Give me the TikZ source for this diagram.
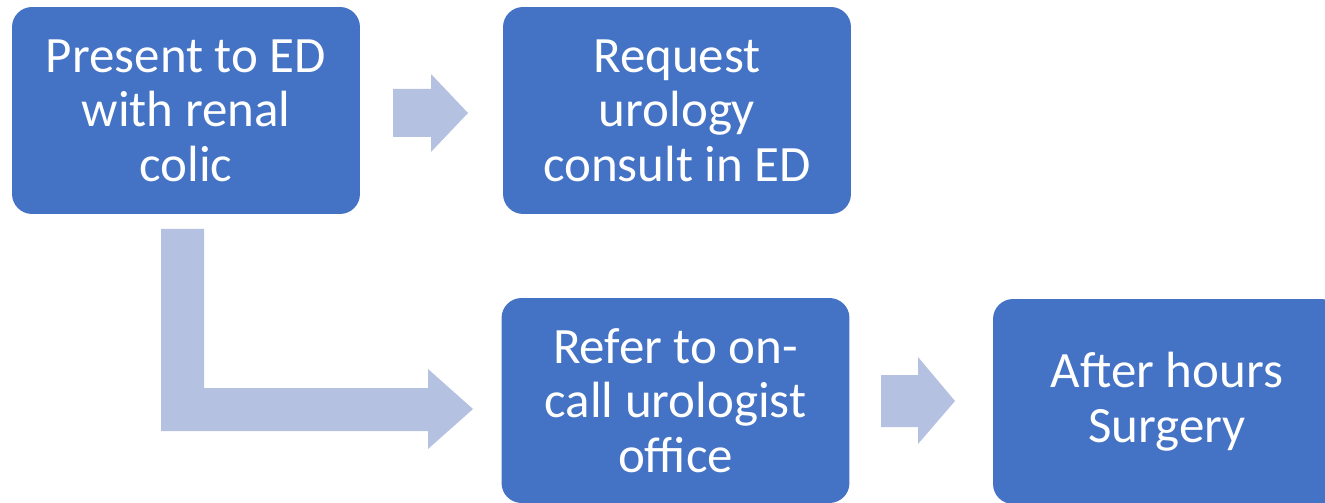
\documentclass[tikz,border=0pt]{standalone}
\usepackage{fontspec}
\setmainfont{Carlito}
\usepackage{xcolor}
\definecolor{boxblue}{RGB}{68, 114, 196}
\definecolor{arrowblue}{RGB}{180, 193, 225}
\usetikzlibrary{positioning}

\tikzset{
  stepbox/.style={fill=boxblue, draw=none, rounded corners=0.4cm, text=white,
    align=center, minimum width=6.96cm, minimum height=4.14cm, inner sep=0pt,
    font=\fontsize{29}{31}\selectfont},
  blockarrow/.style={fill=arrowblue, draw=none}
}

\begin{document}
\begin{tikzpicture}[x=0.02cm, y=-0.02cm]
      \useasboundingbox (0,0) rectangle (1325,503);
      % Top row
      \node[stepbox] (present) at (186,110.5) {Present to ED\\with renal\\colic};
      \node[stepbox] (request) at (677,110.5) {Request\\urology\\consult in ED};
      % Bottom row
      \node[stepbox, minimum height=4.1cm] (refer) at (675.5,400.5) {Refer to on-\\call urologist\\office};
      \node[stepbox, minimum height=4.1cm] (hours) at (1167,401.5) {After hours\\Surgery};
      % Arrow present -> request
      \fill[blockarrow] (393,89) -- (431,89) -- (431,74) -- (468,113) -- (431,152)
        -- (431,137) -- (393,137) -- cycle;
      % Bent arrow present -> refer
      \fill[blockarrow] (161,229) -- (204,229) -- (204,388) -- (428,388) -- (428,369)
        -- (473,409) -- (428,449) -- (428,431) -- (161,431) -- cycle;
      % Arrow refer -> hours
      \fill[blockarrow] (881,375) -- (918,375) -- (918,357) -- (955,401) -- (918,444)
        -- (918,427) -- (881,427) -- cycle;
    \end{tikzpicture}
\end{document}
